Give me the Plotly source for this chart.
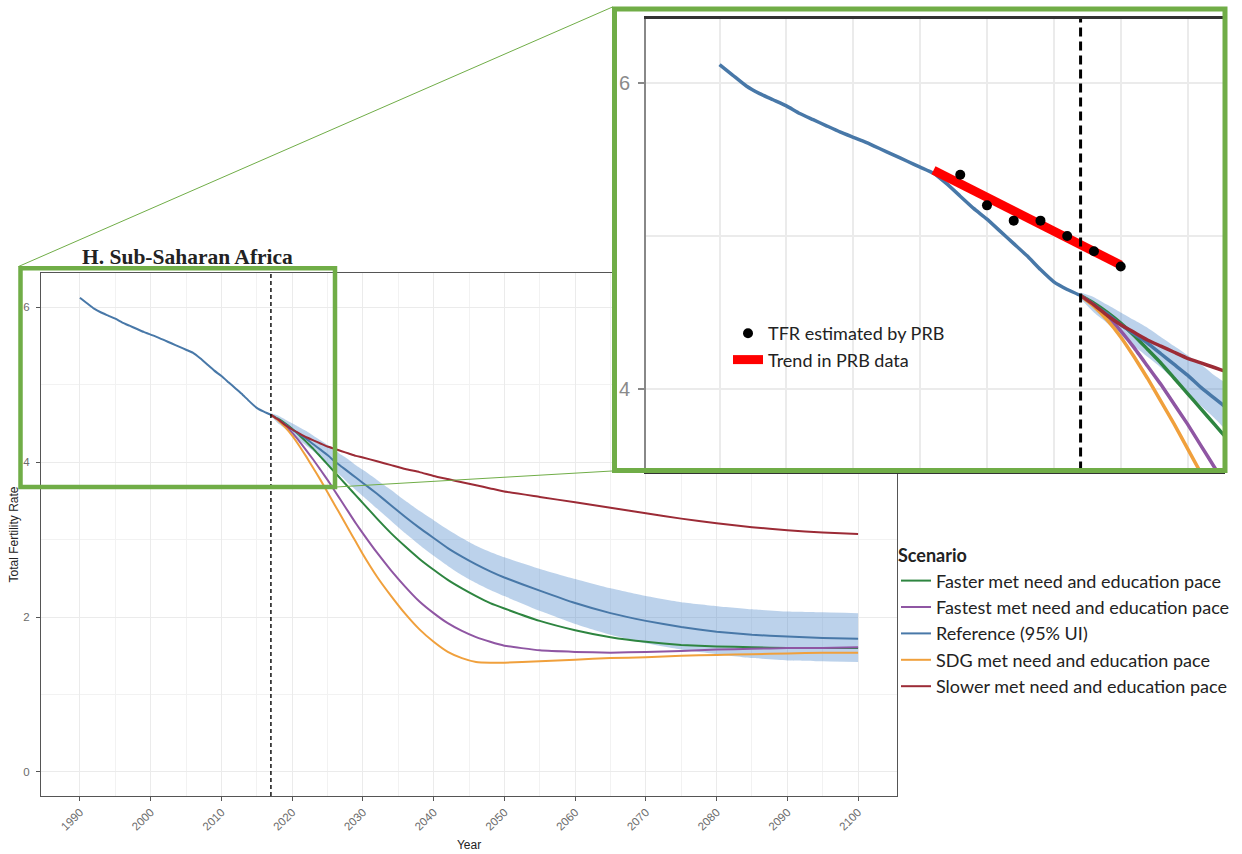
import plotly.graph_objects as go

W, H = 1242, 854


def fx(px):
    """Horizontal pixel position -> paper fraction."""
    return px / W


def fy(py):
    """Vertical pixel position (from top) -> paper fraction."""
    return 1 - py / H


# ---------------------------------------------------------------- data
HIST_YEARS = list(range(1990, 2018))
HIST_TFR = [6.12, 6.05, 5.98, 5.93, 5.89, 5.85, 5.80, 5.76, 5.72, 5.68,
            5.645, 5.61, 5.57, 5.53, 5.49, 5.45, 5.41, 5.34, 5.26, 5.18,
            5.11, 5.03, 4.95, 4.87, 4.78, 4.70, 4.65, 4.61]

PROJ_YEARS = [2017, 2018, 2019, 2020, 2021, 2022, 2023, 2024, 2025, 2026,
              2027, 2028, 2029, 2030, 2032, 2034, 2036, 2038, 2040, 2042,
              2044, 2046, 2048, 2050, 2055, 2060, 2065, 2070, 2075, 2080,
              2085, 2090, 2095, 2100]

REFERENCE = [4.61, 4.55, 4.49, 4.42, 4.36, 4.30, 4.23, 4.16, 4.09, 4.01,
             3.94, 3.87, 3.80, 3.73, 3.59, 3.44, 3.29, 3.15, 3.02, 2.89,
             2.78, 2.68, 2.59, 2.51, 2.34, 2.18, 2.05, 1.95, 1.87, 1.81,
             1.77, 1.75, 1.73, 1.72]
REFERENCE_UPPER = [4.63, 4.60, 4.55, 4.50, 4.45, 4.40, 4.34, 4.28, 4.22, 4.16,
                   4.09, 4.03, 3.96, 3.90, 3.77, 3.64, 3.50, 3.37, 3.25, 3.13,
                   3.02, 2.92, 2.84, 2.77, 2.62, 2.49, 2.37, 2.27, 2.19, 2.14,
                   2.10, 2.07, 2.06, 2.05]
REFERENCE_LOWER = [4.59, 4.50, 4.43, 4.35, 4.28, 4.21, 4.14, 4.06, 3.98, 3.89,
                   3.81, 3.72, 3.64, 3.56, 3.40, 3.24, 3.08, 2.93, 2.79, 2.66,
                   2.54, 2.44, 2.35, 2.27, 2.08, 1.91, 1.77, 1.66, 1.58, 1.52,
                   1.47, 1.44, 1.43, 1.42]
FASTER = [4.61, 4.56, 4.50, 4.43, 4.35, 4.26, 4.17, 4.07, 3.97, 3.87,
          3.77, 3.67, 3.57, 3.47, 3.27, 3.08, 2.91, 2.75, 2.61, 2.48,
          2.37, 2.27, 2.18, 2.11, 1.95, 1.83, 1.74, 1.68, 1.64, 1.62,
          1.61, 1.60, 1.60, 1.60]
FASTEST = [4.61, 4.55, 4.47, 4.38, 4.27, 4.15, 4.03, 3.90, 3.77, 3.63,
           3.49, 3.35, 3.21, 3.08, 2.83, 2.60, 2.39, 2.20, 2.05, 1.92,
           1.82, 1.74, 1.68, 1.63, 1.57, 1.55, 1.54, 1.55, 1.56, 1.58,
           1.59, 1.60, 1.60, 1.61]
SDG = [4.61, 4.54, 4.45, 4.34, 4.21, 4.07, 3.92, 3.77, 3.61, 3.45,
       3.29, 3.13, 2.97, 2.81, 2.52, 2.27, 2.04, 1.84, 1.68, 1.55,
       1.47, 1.42, 1.41, 1.41, 1.43, 1.45, 1.47, 1.48, 1.50, 1.51,
       1.52, 1.53, 1.54, 1.54]
SLOWER = [4.61, 4.55, 4.48, 4.42, 4.37, 4.32, 4.28, 4.24, 4.20, 4.17,
          4.14, 4.11, 4.08, 4.06, 4.01, 3.96, 3.91, 3.87, 3.82, 3.78,
          3.74, 3.70, 3.66, 3.62, 3.55, 3.48, 3.41, 3.34, 3.27, 3.21,
          3.16, 3.12, 3.09, 3.07]

PRB_YEARS = [2008, 2010, 2012, 2014, 2016, 2018, 2020]
PRB_TFR = [5.40, 5.20, 5.10, 5.10, 5.00, 4.90, 4.80]
TREND_YEARS = [2006, 2020]
TREND_TFR = [5.43, 4.81]

FORECAST_START = 2017

SCENARIOS = [
    ("Faster met need and education pace", FASTER, "#2e8540"),
    ("Fastest met need and education pace", FASTEST, "#8f56a3"),
    ("Reference (95% UI)", REFERENCE, "#4878a8"),
    ("SDG met need and education pace", SDG, "#f0a03c"),
    ("Slower met need and education pace", SLOWER, "#9c2b36"),
]

BAND_FILL = "rgba(74,134,200,0.37)"
FRAME_GREEN = "#70ad47"
AXIS_FONT = "Liberation Sans"
LEGEND_FONT = "Lato"

fig = go.Figure()


def add_projection(xa, ya, width, legend):
    # 95% uncertainty band of the reference scenario
    fig.add_trace(go.Scatter(x=PROJ_YEARS, y=REFERENCE_LOWER, mode="lines",
                             line=dict(width=0, color=BAND_FILL,
                                       shape="spline", smoothing=0.4),
                             xaxis=xa, yaxis=ya, showlegend=False,
                             hoverinfo="skip"))
    fig.add_trace(go.Scatter(x=PROJ_YEARS, y=REFERENCE_UPPER, mode="lines",
                             line=dict(width=0, color=BAND_FILL,
                                       shape="spline", smoothing=0.4),
                             fill="tonexty", fillcolor=BAND_FILL,
                             xaxis=xa, yaxis=ya, showlegend=False,
                             hoverinfo="skip"))
    for name, values, color in SCENARIOS:
        if values is REFERENCE:
            xs = HIST_YEARS + PROJ_YEARS[1:]
            ys = HIST_TFR + REFERENCE[1:]
        else:
            xs, ys = PROJ_YEARS, values
        fig.add_trace(go.Scatter(x=xs, y=ys, mode="lines", name=name,
                                 line=dict(color=color, width=width,
                                           shape="spline", smoothing=0.4),
                                 xaxis=xa, yaxis=ya,
                                 showlegend=legend, legend="legend"))


# main panel
add_projection("x", "y", 2, True)

# opaque sheet behind the magnified view
fig.add_trace(go.Scatter(x=[], y=[], xaxis="x2", yaxis="y2",
                         showlegend=False, hoverinfo="skip"))

# magnified view of 1985-2027
add_projection("x3", "y3", 3.5, False)
fig.add_trace(go.Scatter(x=TREND_YEARS, y=TREND_TFR, mode="lines",
                         name="Trend in PRB data",
                         line=dict(color="#ff0000", width=9),
                         xaxis="x3", yaxis="y3", legend="legend2",
                         legendrank=2))
fig.add_trace(go.Scatter(x=PRB_YEARS, y=PRB_TFR, mode="markers",
                         name="TFR estimated by PRB",
                         marker=dict(color="black", size=10),
                         xaxis="x3", yaxis="y3", legend="legend2",
                         legendrank=1))

# ---------------------------------------------------------------- axes
tick_font = dict(family=AXIS_FONT, size=11.5, color="#6b6b6b")
title_font = dict(family=AXIS_FONT, size=12, color="#222222")

fig.update_layout(
    xaxis=dict(
        domain=[fx(41), fx(897)], anchor="y", range=[1984.5, 2105.5],
        tickmode="array", tickvals=list(range(1990, 2101, 10)),
        tickangle=-45, ticks="outside", ticklen=4, tickcolor="#555555",
        tickfont=tick_font, showline=True, linecolor="#555555",
        linewidth=1.2, mirror=True, showgrid=True, gridcolor="#ebebeb",
        gridwidth=1, zeroline=False,
        minor=dict(tickmode="array", tickvals=list(range(1995, 2100, 10)),
                   showgrid=True, gridcolor="#f2f2f2", gridwidth=1, ticks=""),
        title=dict(text="Year", font=title_font, standoff=8),
        automargin=False,
    ),
    yaxis=dict(
        domain=[fy(796), fy(273)], anchor="x", range=[-0.31, 6.44],
        tickmode="array", tickvals=[0, 2, 4, 6], ticks="outside",
        ticklen=4, tickcolor="#555555", tickfont=tick_font,
        ticklabelstandoff=4,
        showline=True, linecolor="#555555", linewidth=1.2, mirror=True,
        showgrid=True, gridcolor="#ebebeb", gridwidth=1, zeroline=False,
        minor=dict(tickmode="array", tickvals=[1, 3, 5], showgrid=True,
                   gridcolor="#f2f2f2", gridwidth=1, ticks=""),
        title=dict(text="Total Fertility Rate", font=title_font, standoff=1),
        automargin=False,
    ),
    xaxis2=dict(domain=[fx(614.5), fx(1225)], anchor="y2", range=[0, 1],
                visible=False, fixedrange=True),
    yaxis2=dict(domain=[fy(470.5), fy(9)], anchor="x2", range=[0, 1],
                visible=False, fixedrange=True),
    xaxis3=dict(
        domain=[fx(646), fx(1225)], anchor="y3", range=[1984.5, 2027.8],
        tickmode="array", tickvals=[1990, 2000, 2010, 2020],
        showticklabels=False, ticks="", showgrid=True, gridcolor="#ebebeb",
        gridwidth=2, zeroline=False, showline=True, linecolor="#333333",
        linewidth=2.5, mirror=True,
        minor=dict(tickmode="array", tickvals=[1995, 2005, 2015, 2025],
                   showgrid=True, gridcolor="#ebebeb", gridwidth=2, ticks=""),
        automargin=False,
    ),
    yaxis3=dict(
        domain=[fy(470.5), fy(19)], anchor="x3", range=[3.467, 6.418],
        tickmode="array", tickvals=[4, 6], ticks="outside", ticklen=6,
        tickwidth=2, tickcolor="#888888",
        tickfont=dict(family=AXIS_FONT, size=20, color="#8a8a8a"),
        ticklabelstandoff=4,
        showline=True, linecolor="#888888", linewidth=2,
        showgrid=True, gridcolor="#ebebeb", gridwidth=2, zeroline=False,
        minor=dict(tickmode="array", tickvals=[5], showgrid=True,
                   gridcolor="#ebebeb", gridwidth=2, ticks=""),
        automargin=False,
    ),
)

# ---------------------------------------------------------------- shapes
shapes = [
    # forecast start marker in both panels
    dict(type="line", xref="x", yref="y domain", x0=FORECAST_START,
         x1=FORECAST_START, y0=0, y1=1,
         line=dict(color="black", width=1.4, dash="4px,3px")),
    dict(type="line", xref="x3", yref="y3 domain", x0=FORECAST_START,
         x1=FORECAST_START, y0=0, y1=1,
         line=dict(color="black", width=3, dash="9px,5px")),
    # highlighted region in the main panel
    dict(type="rect", xref="paper", yref="paper",
         x0=fx(20.5), x1=fx(335), y0=fy(487), y1=fy(268.3),
         line=dict(color=FRAME_GREEN, width=4.5)),
    # frame around the magnified view
    dict(type="rect", xref="paper", yref="paper",
         x0=fx(614.5), x1=fx(1225), y0=fy(470.5), y1=fy(9),
         line=dict(color=FRAME_GREEN, width=5)),
    # connectors between the highlighted region and its magnification
    dict(type="line", xref="paper", yref="paper",
         x0=fx(18.5), y0=fy(266.5), x1=fx(612.5), y1=fy(7),
         line=dict(color=FRAME_GREEN, width=1)),
    dict(type="line", xref="paper", yref="paper",
         x0=fx(336), y0=fy(487), x1=fx(612), y1=fy(471),
         line=dict(color=FRAME_GREEN, width=1)),
]

fig.update_layout(
    width=W, height=H,
    margin=dict(l=0, r=0, t=0, b=0),
    paper_bgcolor="white", plot_bgcolor="white",
    title=dict(text="<b>H. Sub-Saharan Africa</b>", x=fx(82), y=fy(256),
               xref="paper", yref="paper", xanchor="left", yanchor="middle",
               font=dict(family="Liberation Serif", size=21.5,
                         color="#222222")),
    showlegend=True,
    legend=dict(
        x=fx(896), y=fy(539), xanchor="left", yanchor="top",
        traceorder="normal",
        title=dict(text="<b>Scenario</b>",
                   font=dict(family=LEGEND_FONT, size=18, color="#222222")),
        font=dict(family=LEGEND_FONT, size=18, color="#222222"),
        bgcolor="rgba(0,0,0,0)", itemwidth=30, tracegroupgap=0,
    ),
    legend2=dict(
        x=fx(728), y=fy(315), xanchor="left", yanchor="top",
        traceorder="normal",
        font=dict(family=LEGEND_FONT, size=18, color="#222222"),
        bgcolor="rgba(0,0,0,0)", itemwidth=30,
    ),
    shapes=shapes,
    hovermode=False,
)

fig.write_html("out.html")
